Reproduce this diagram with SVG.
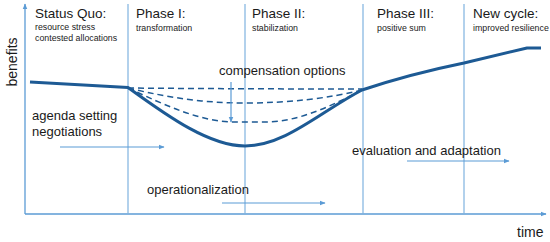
<svg xmlns="http://www.w3.org/2000/svg" width="550" height="242" viewBox="0 0 550 242">
<defs>
<marker id="ah" viewBox="0 0 10 10" refX="9" refY="5" markerWidth="6" markerHeight="6" orient="auto" markerUnits="userSpaceOnUse">
<path d="M0,1 L10,5 L0,9 z" fill="#5b9bd5"/>
</marker>
<style>
.ax{stroke:#5b9bd5;stroke-width:1.3;fill:none}
.ph{stroke:#7fb2e0;stroke-width:1.2;fill:none}
.main{stroke:#1d5a94;stroke-width:3;fill:none;stroke-linejoin:round}
.dash{stroke:#1d5a94;stroke-width:1.5;fill:none;stroke-dasharray:6 4}
.arr{stroke:#5b9bd5;stroke-width:1.2;fill:none;marker-end:url(#ah)}
.t{font-family:"Liberation Sans",Arial,sans-serif;fill:#1a1a1a}
.h{font-size:13.5px}
.s{font-size:8.8px}
.l{font-size:13px}
.a{font-size:14px}
</style>
</defs>
<g id="axes">
<line class="ax" x1="25" y1="214" x2="25" y2="4" marker-end="url(#ah)"/>
<line class="ax" x1="25" y1="214" x2="546" y2="214" marker-end="url(#ah)"/>
<line class="ph" x1="128" y1="4" x2="128" y2="214"/>
<line class="ph" x1="245" y1="4" x2="245" y2="214"/>
<line class="ph" x1="363" y1="4" x2="363" y2="214"/>
<line class="ph" x1="464" y1="4" x2="464" y2="214"/>
<text class="t a" transform="translate(17,62) rotate(-90)" text-anchor="middle">benefits</text>
<text class="t a" x="517" y="237">time</text>
</g>
<g id="phase-status-quo">
<text class="t h" x="35" y="18">Status Quo:</text>
<text class="t s" x="35" y="30">resource stress</text>
<text class="t s" x="35" y="41">contested allocations</text>
</g>
<g id="phase-1">
<text class="t h" x="136" y="18">Phase I:</text>
<text class="t s" x="136" y="31">transformation</text>
</g>
<g id="phase-2">
<text class="t h" x="252" y="18">Phase II:</text>
<text class="t s" x="252" y="31">stabilization</text>
</g>
<g id="phase-3">
<text class="t h" x="377" y="18">Phase III:</text>
<text class="t s" x="377" y="31">positive sum</text>
</g>
<g id="phase-new">
<text class="t h" x="473" y="18">New cycle:</text>
<text class="t s" x="473" y="31">improved resilience</text>
</g>
<g id="connectors">
<path class="dash" d="M128,88 Q245,89 362,89"/>
<path class="dash" d="M128,88 C170,98 205,103 245,103 C290,103 330,98 362,90"/>
<path class="dash" d="M128,88 C165,105 200,122 235,122 L265,122 C300,122 335,104 362,90"/>
<path class="main" d="M30,82 L128,87.5 C170,118 210,146 245,146 C285,146 320,112 362,90 Q410,74 464,63 L527,48 L541,48"/>
<line class="arr" x1="231" y1="82" x2="231" y2="122"/>
<line class="arr" x1="60" y1="147" x2="164" y2="147"/>
<line class="arr" x1="222" y1="203" x2="325" y2="203"/>
<line class="arr" x1="407" y1="161" x2="509" y2="161"/>
</g>
<g id="labels">
<text class="t l" x="219" y="75">compensation options</text>
<text class="t l" x="32" y="120">agenda setting</text>
<text class="t l" x="32" y="136">negotiations</text>
<text class="t l" x="147" y="194">operationalization</text>
<text class="t l" x="352" y="155">evaluation and adaptation</text>
</g>
</svg>
